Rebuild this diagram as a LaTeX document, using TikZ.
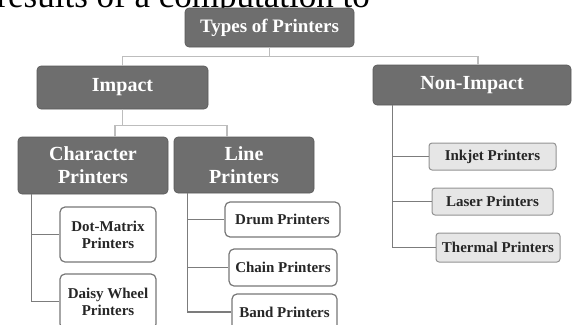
\documentclass[tikz,border=0pt]{standalone}
\usepackage{fontspec}
\setmainfont{Liberation Serif}
\usetikzlibrary{calc}
\definecolor{boxdark}{HTML}{6E6E6E}
\definecolor{linelight}{HTML}{BDBDBD}
\definecolor{linedark}{HTML}{7C7C7C}
\definecolor{leafborder}{HTML}{777777}
\definecolor{leafgray}{HTML}{E6E6E6}
\tikzset{
  darkbox/.style={fill=boxdark, draw=boxdark!80!black, line width=0.6pt, rounded corners=4pt,
    text=white, font=\bfseries\fontsize{20}{23}\selectfont, align=center,
    inner sep=0pt},
  leafbox/.style={fill=white, draw=leafborder, line width=1.2pt, rounded corners=5pt,
    text=black!85, font=\bfseries\fontsize{15}{17}\selectfont, align=center, inner sep=0pt},
  graybox/.style={leafbox, fill=leafgray, draw=leafborder!80, line width=1pt, rounded corners=3pt},
  toplink/.style={draw=linelight, line width=1.6pt},
  branch/.style={draw=linedark, line width=1.4pt},
}
\begin{document}
\begin{tikzpicture}[x=1pt, y=-1pt]
\useasboundingbox (0,0) rectangle (577,324);
\begin{scope}
\clip (0,0) rectangle (577,324);

% caption line from the surrounding page, cut at the top edge
\node[anchor=base east, inner sep=0pt, font=\fontsize{35}{40}\selectfont] (caption) at (370,7) {results of a computation to};

% top level
\node[darkbox, minimum width=169pt, minimum height=39pt, font=\bfseries\fontsize{19}{22}\selectfont] (types) at (269.5,27.5) {Types of Printers};
\node[darkbox, minimum width=171pt, minimum height=43pt] (impact) at (122.5,87.5) {Impact};
\node[darkbox, minimum width=198pt, minimum height=40pt] (nonimpact) at (472,85) {Non-Impact};

% impact subgroups
\node[darkbox, minimum width=150pt, minimum height=57pt] (character) at (93,165.5) {Character\\Printers};
\node[darkbox, minimum width=140pt, minimum height=56pt] (line) at (244,165) {Line\\Printers};

% character printers
\node[leafbox, minimum width=96pt, minimum height=55pt] (dotmatrix) at (108,234.5) {Dot-Matrix\\Printers};
\node[leafbox, minimum width=96pt, minimum height=55pt] (daisy) at (108,301.5) {Daisy Wheel\\Printers};

% line printers
\node[leafbox, minimum width=115pt, minimum height=35pt] (drum) at (282.5,219.5) {Drum Printers};
\node[leafbox, minimum width=108pt, minimum height=37pt] (chain) at (283,267.5) {Chain Printers};
\node[leafbox, minimum width=105pt, minimum height=36pt] (band) at (284.5,312) {Band Printers};

% non-impact printers
\node[graybox, minimum width=127pt, minimum height=27pt] (inkjet) at (492.5,156.5) {Inkjet Printers};
\node[graybox, minimum width=121pt, minimum height=27pt] (laser) at (492.5,201.5) {Laser Printers};
\node[graybox, minimum width=124pt, minimum height=29pt] (thermal) at (498,247.5) {Thermal Printers};

% links between levels
\coordinate (tj) at ($(types.south)+(0,9)$);
\draw[toplink] (types.south) -- (tj) -| (impact.north);
\draw[toplink] (tj) -| ([xshift=6pt]nonimpact.north);
\coordinate (ij) at ($(impact.south)+(0,16)$);
\draw[toplink] (impact.south) -- (ij) -| ([xshift=22pt]character.north);
\draw[toplink] (ij) -| ([xshift=-17pt]line.north);

% branches to leaves
\draw[branch] ([xshift=14pt]character.south west) |- (dotmatrix.west);
\draw[branch] ([xshift=14pt]character.south west) |- (daisy.west);
\draw[branch] ([xshift=14pt]line.south west) |- (drum.west);
\draw[branch] ([xshift=14pt]line.south west) |- (chain.west);
\draw[branch] ([xshift=14pt]line.south west) |- (band.west);
\draw[branch] ([xshift=20pt]nonimpact.south west) |- (inkjet.west);
\draw[branch] ([xshift=20pt]nonimpact.south west) |- (laser.west);
\draw[branch] ([xshift=20pt]nonimpact.south west) |- (thermal.west);
\end{scope}
\end{tikzpicture}
\end{document}
